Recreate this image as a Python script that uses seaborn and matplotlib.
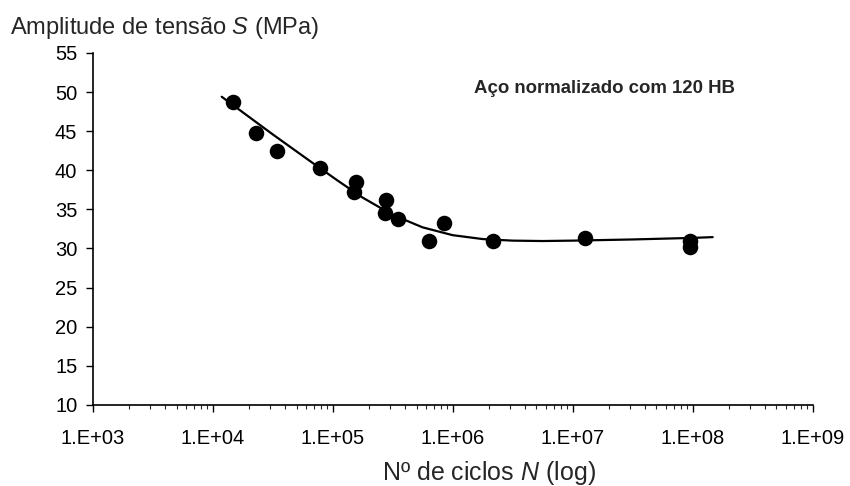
import numpy as np
import pandas as pd
import matplotlib
matplotlib.use("Agg")
import matplotlib.pyplot as plt
import matplotlib.ticker as mticker
import seaborn as sns

# pontos experimentais (N ciclos, S MPa)
ciclos = [1.47e4, 2.28e4, 3.47e4, 7.8e4, 1.58e5, 1.50e5, 2.8e5, 2.75e5, 3.5e5,
          6.3e5, 8.4e5, 2.15e6, 1.26e7, 9.6e7, 9.6e7]
tensao = [48.7, 44.8, 42.5, 40.3, 38.5, 37.2, 36.2, 34.5, 33.8,
          31.0, 33.3, 31.0, 31.3, 31.0, 30.2]

# curva desenhada
curva_n = [1.19e4, 3.16e4, 6.31e4, 1.12e5, 1.78e5, 3.16e5, 5.62e5, 1.0e6,
           1.78e6, 3.16e6, 5.62e6, 1.0e7, 3.16e7, 1.0e8, 1.47e8]
curva_s = [49.4, 44.6, 41.3, 38.6, 36.5, 34.3, 32.7, 31.7,
           31.2, 31.0, 30.95, 31.0, 31.15, 31.35, 31.45]

xticks = [1e3, 1e4, 1e5, 1e6, 1e7, 1e8, 1e9]
yticks = [10, 15, 20, 25, 30, 35, 40, 45, 50, 55]

sns.set_theme(style="ticks")
plt.rcParams['font.family'] = ['Liberation Sans', 'DejaVu Sans']
plt.rcParams['mathtext.fontset'] = 'custom'
plt.rcParams['mathtext.it'] = 'Liberation Sans:italic'
plt.rcParams['mathtext.rm'] = 'Liberation Sans'

df_pts = pd.DataFrame({'N': ciclos, 'S': tensao})
df_cur = pd.DataFrame({'N': curva_n, 'S': curva_s})

fig = plt.figure(figsize=(8.5, 4.86), dpi=100)
ax = fig.add_axes([0.109, 0.167, 0.847, 0.724])

sns.lineplot(data=df_cur, x='N', y='S', ax=ax, color='black', linewidth=1.6, sort=True)
sns.scatterplot(data=df_pts, x='N', y='S', ax=ax, color='black', s=125, edgecolor='black', linewidth=0, zorder=3)

ax.set_xscale('log')
ax.set_xlim(1e3, 1e9)
ax.set_ylim(10, 55)
ax.set_xticks(xticks)
ax.xaxis.set_major_formatter(mticker.FuncFormatter(lambda v, p: "1.E+%02d" % int(round(np.log10(v)))))
ax.xaxis.set_minor_locator(mticker.LogLocator(base=10, subs=np.arange(2, 10), numticks=20))
ax.xaxis.set_minor_formatter(mticker.NullFormatter())
ax.set_yticks(yticks)
ax.tick_params(axis='both', which='major', direction='out', length=5, width=1, labelsize=14.5, colors='black')
ax.tick_params(axis='x', which='major', pad=12.5)
ax.tick_params(axis='y', which='major', pad=6)
ax.tick_params(axis='x', which='minor', direction='out', length=3, width=0.8)
ax.spines['top'].set_visible(False)
ax.spines['right'].set_visible(False)
for sp in ['left', 'bottom']:
    ax.spines[sp].set_color('black')
    ax.spines[sp].set_linewidth(1.2)

ax.set_xlabel("Nº de ciclos $\\mathit{N}$ (log)", fontsize=18)
ax.xaxis.set_label_coords(0.551, -0.155)
ax.set_ylabel("")
fig.text(0.012, 0.942, "Amplitude de tensão $\\mathit{S}$ (MPa)", fontsize=17, ha='left', va='center')
ax.text(0.53, 0.90, "Aço normalizado com 120 HB", transform=ax.transAxes, fontsize=13.4,
        fontweight='bold', ha='left', va='center')

fig.savefig("out.png", dpi=100)
